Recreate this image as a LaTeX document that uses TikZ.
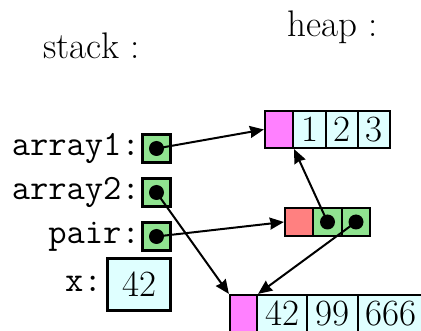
\documentclass[tikz,border=0pt]{standalone}
\usepackage{fontspec}
\usetikzlibrary{arrows.meta}
\definecolor{cellpink}{HTML}{FF80FF}
\definecolor{cellcyan}{HTML}{DFFFFF}
\definecolor{cellgreen}{HTML}{90E390}
\definecolor{cellred}{HTML}{FF8080}
\tikzset{
  txt/.style={font=\fontsize{37}{44}\selectfont, inner sep=0pt},
  ttlabel/.style={font=\fontsize{35.5}{42}\selectfont\ttfamily, inner sep=0pt, anchor=base east},
  cell/.style={draw, line width=2.2pt, inner sep=0pt, font=\fontsize{37}{44}\selectfont},
  ptrcell/.style={cell, fill=cellgreen, minimum width=28pt, minimum height=28pt},
  valcell/.style={cell, fill=cellcyan, minimum height=37pt},
  hdrcell/.style={cell, fill=cellpink, minimum height=37pt},
  dot/.style={circle, fill=black, inner sep=0pt, minimum size=15pt},
  ptr/.style={line width=2pt, -{Stealth[length=14pt,width=12pt,inset=1pt]}}
}
\begin{document}
\begin{tikzpicture}[x=1pt,y=-1pt]
\useasboundingbox (0,0) rectangle (421,331);
\clip (0,0) rectangle (421,331);

% section titles
\node[txt, anchor=base] (tstack) at (91.5,59) {stack :};
\node[txt, anchor=base] (theap) at (332.5,37) {heap :};

% stack slots
\node[ptrcell] (a1) at (156.5,148.5) {};
\node[ptrcell] (a2) at (156.5,192.5) {};
\node[ptrcell] (p)  at (156.5,236.5) {};
\node[valcell, minimum width=63pt, minimum height=52pt] (xb) at (139,284.5) {42};

\node[ttlabel] (la1) at (140,156) {array1:};
\node[ttlabel] (la2) at (140,200) {array2:};
\node[ttlabel] (lp)  at (140,244) {pair:};
\node[ttlabel] (lx)  at (102,292) {x:};

% heap: first array
\node[hdrcell, minimum width=28pt] (h1p) at (279,129.5) {};
\node[valcell, minimum width=33pt] (h1c1) at (309.5,129.5) {1};
\node[valcell, minimum width=32pt] (h1c2) at (342,129.5) {2};
\node[valcell, minimum width=32pt] (h1c3) at (374,129.5) {3};

% heap: pair
\node[cell, fill=cellred, minimum width=28pt, minimum height=28pt] (pr) at (299,222) {};
\node[ptrcell, minimum width=29pt] (pg1) at (327.5,222) {};
\node[ptrcell] (pg2) at (356,222) {};

% heap: second array
\node[hdrcell, minimum width=27pt] (h2p) at (243.5,313.5) {};
\node[valcell, minimum width=50pt] (h2c1) at (282,313.5) {42};
\node[valcell, minimum width=51pt] (h2c2) at (332.5,313.5) {99};
\node[valcell, minimum width=66pt] (h2c3) at (391,313.5) {666};

% pointers
\draw[ptr] (a1.center) -- (h1p.west);
\draw[ptr] (a2.center) -- (h2p.north west);
\draw[ptr] (p.center) -- (pr.west);
\draw[ptr] (pg1.center) -- (h1p.south east);
\draw[ptr] (pg2.center) -- (h2p.north east);

% pointer dots
\foreach \n in {a1,a2,p,pg1,pg2}
  \node[dot] (\n dot) at (\n.center) {};
\end{tikzpicture}
\end{document}
